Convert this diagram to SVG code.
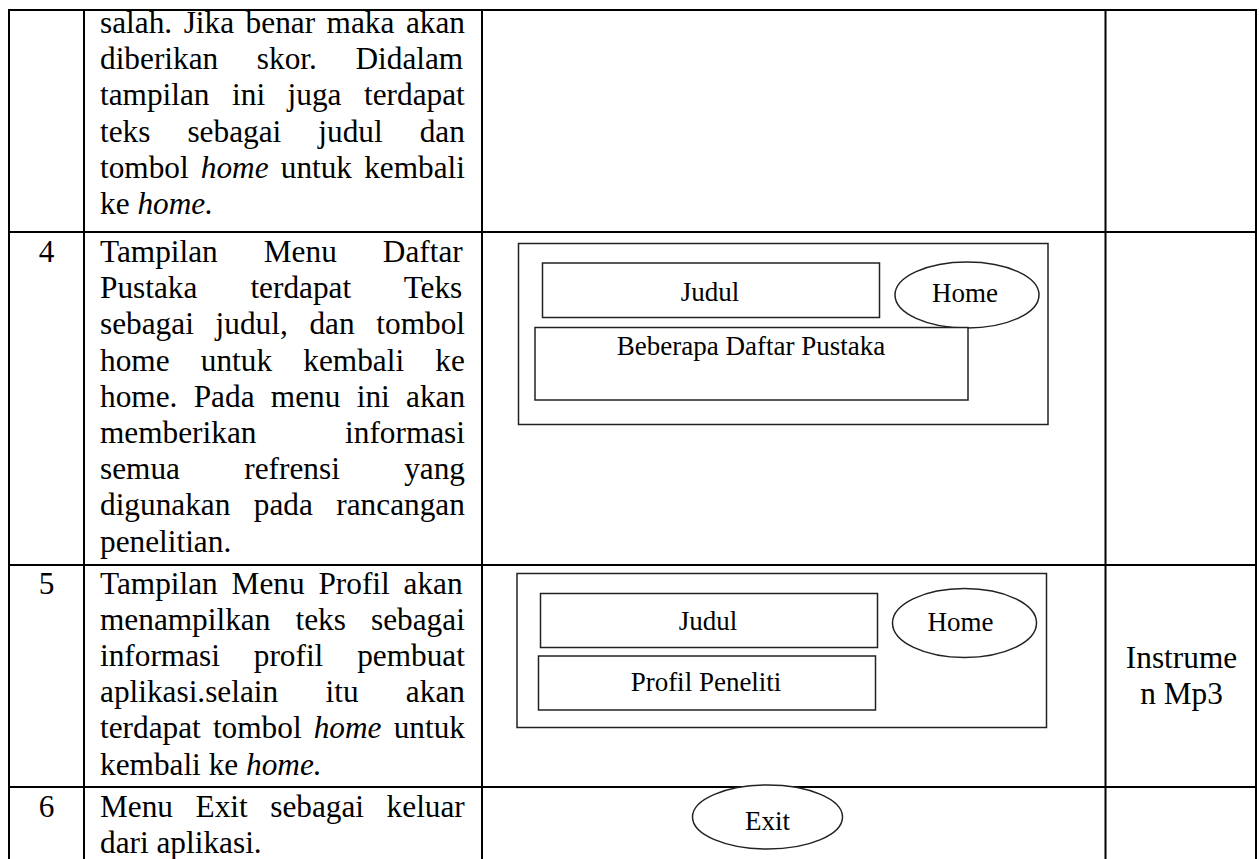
<svg xmlns="http://www.w3.org/2000/svg" width="1259" height="859" viewBox="0 0 1259 859">
<style>
.bg{fill:#fff}
.grid line{stroke:#000;stroke-width:2}
.t{font-family:"Liberation Serif","Times New Roman",serif;font-size:31.3px;fill:#000}
.num{font-family:"Liberation Serif","Times New Roman",serif;font-size:31.3px;fill:#000;text-anchor:middle}
.i{font-style:italic}
.box{fill:#fff;stroke:#222;stroke-width:1.5}
.lbl{font-family:"Liberation Serif","Times New Roman",serif;font-size:27px;fill:#000;text-anchor:middle}
.side{font-family:"Liberation Serif","Times New Roman",serif;font-size:31.3px;fill:#000;text-anchor:middle}
</style>
<rect class="bg" x="0" y="0" width="1259" height="859"/>
<g id="grid" class="grid">
<line x1="9" y1="10" x2="1256" y2="10"/>
<line x1="9" y1="232" x2="1256" y2="232"/>
<line x1="9" y1="565" x2="1256" y2="565"/>
<line x1="9" y1="787" x2="1256" y2="787"/>
<line x1="9" y1="9" x2="9" y2="859"/>
<line x1="84" y1="9" x2="84" y2="859"/>
<line x1="482" y1="9" x2="482" y2="859"/>
<line x1="1105.5" y1="9" x2="1105.5" y2="859"/>
<line x1="1256" y1="9" x2="1256" y2="859"/>
</g>
<g id="connectors"></g>
<g id="row3-desc">
<text class="t" x="100" y="33" word-spacing="3.7">salah. Jika benar maka akan</text>
<text class="t" x="100" y="69.2" word-spacing="30.8">diberikan skor. Didalam</text>
<text class="t" x="100" y="105.4" word-spacing="14.7">tampilan ini juga terdapat</text>
<text class="t" x="100" y="141.6" word-spacing="29.2">teks sebagai judul dan</text>
<text class="t" x="100" y="177.8" word-spacing="4.3">tombol <tspan class="i">home</tspan> untuk kembali</text>
<text class="t" x="100" y="214">ke <tspan class="i">home.</tspan></text>
</g>
<g id="row4-num"><text class="num" x="46.5" y="262">4</text></g>
<g id="row4-desc">
<text class="t" x="100" y="262" word-spacing="38.2">Tampilan Menu Daftar</text>
<text class="t" x="100" y="298.2" word-spacing="45.2">Pustaka terdapat Teks</text>
<text class="t" x="100" y="334.4" word-spacing="13.9">sebagai judul, dan tombol</text>
<text class="t" x="100" y="370.6" word-spacing="23.4">home untuk kembali ke</text>
<text class="t" x="100" y="406.8" word-spacing="8.5">home. Pada menu ini akan</text>
<text class="t" x="100" y="443" word-spacing="80.8">memberikan informasi</text>
<text class="t" x="100" y="479.2" word-spacing="56.5">semua refrensi yang</text>
<text class="t" x="100" y="515.4" word-spacing="15.6">digunakan pada rancangan</text>
<text class="t" x="100" y="551.6">penelitian.</text>
</g>
<g id="row4-screen">
<rect class="box" x="518.5" y="243.5" width="529.5" height="181"/>
<rect class="box" x="542.5" y="263" width="337" height="54.5"/>
<text class="lbl" x="710" y="301">Judul</text>
<ellipse class="box" cx="967" cy="295" rx="72" ry="33"/>
<text class="lbl" x="965" y="302">Home</text>
<rect class="box" x="535" y="327.5" width="433" height="72.5"/>
<text class="lbl" x="751" y="355">Beberapa Daftar Pustaka</text>
</g>
<g id="row5-num"><text class="num" x="46.5" y="593.5">5</text></g>
<g id="row5-desc">
<text class="t" x="100" y="593.5" word-spacing="6.0">Tampilan Menu Profil akan</text>
<text class="t" x="100" y="629.7" word-spacing="17.3">menampilkan teks sebagai</text>
<text class="t" x="100" y="665.9" word-spacing="26.0">informasi profil pembuat</text>
<text class="t" x="100" y="702.1" word-spacing="39.5">aplikasi.selain itu akan</text>
<text class="t" x="100" y="738.3" word-spacing="4.3">terdapat tombol <tspan class="i">home</tspan> untuk</text>
<text class="t" x="100" y="774.5">kembali ke <tspan class="i">home.</tspan></text>
</g>
<g id="row5-screen">
<rect class="box" x="517" y="573.5" width="529.5" height="154"/>
<rect class="box" x="540.5" y="593.5" width="337" height="54"/>
<text class="lbl" x="708" y="629.5">Judul</text>
<ellipse class="box" cx="964.5" cy="623" rx="72" ry="34.5"/>
<text class="lbl" x="960.5" y="631">Home</text>
<rect class="box" x="538.5" y="656" width="337" height="54"/>
<text class="lbl" x="706" y="690.5">Profil Peneliti</text>
</g>
<g id="row5-audio">
<text class="side" x="1181.5" y="667.5">Instrume</text>
<text class="side" x="1181.5" y="704">n Mp3</text>
</g>
<g id="row6-num"><text class="num" x="46.5" y="817">6</text></g>
<g id="row6-desc">
<text class="t" x="100" y="817" word-spacing="14.7">Menu Exit sebagai keluar</text>
<text class="t" x="100" y="853">dari aplikasi.</text>
</g>
<g id="row6-exit">
<ellipse class="box" cx="767.5" cy="817" rx="75" ry="32"/>
<text class="lbl" x="767.5" y="830">Exit</text>
</g>
</svg>
